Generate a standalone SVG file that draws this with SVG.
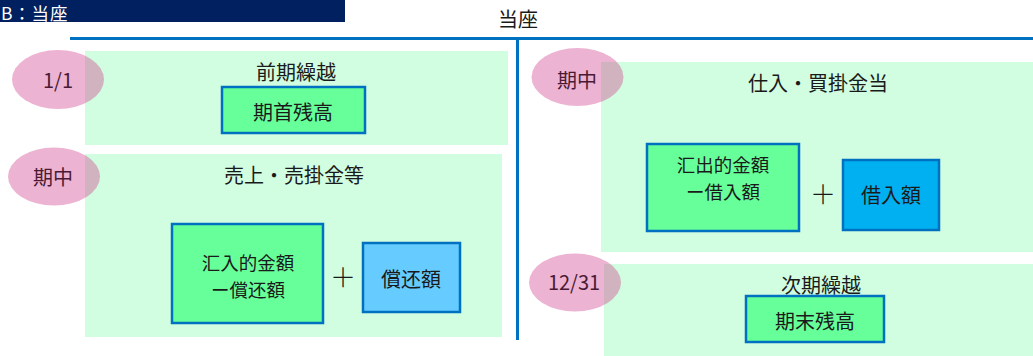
<svg xmlns="http://www.w3.org/2000/svg" width="1033" height="356" viewBox="0 0 1033 356">
<style>
text{font-family:"Noto Sans CJK JP","Noto Sans CJK SC",sans-serif;font-size:20px;fill:#1a1a1a;text-anchor:middle}
.panel{fill:#D1FDE0}
.oval{fill:#D2408E;fill-opacity:0.4}
.olab{fill:#4a1a34}
.box{stroke:#0070C0;stroke-width:2.5}
.g{fill:#66FF99}
.b1{fill:#66CCFF}
.b2{fill:#00B0F0}
.line{stroke:#0070C0;stroke-width:3;fill:none}
.plus{font-size:26px;font-weight:300}
.two{font-size:18.5px}
</style>
<g id="header">
<rect x="0" y="0" width="345" height="22" fill="#002060"/>
<text x="1" y="20.3" style="fill:#fff;text-anchor:start;font-size:17.5px;letter-spacing:0.8px">B：当座</text>
</g>
<text id="title" x="518" y="27">当座</text>
<g id="connectors">
<line class="line" x1="70" y1="38.5" x2="1033" y2="38.5"/>
<line class="line" x1="517.5" y1="38" x2="517.5" y2="340"/>
</g>
<g id="opening">
<rect class="panel" x="85" y="51" width="423" height="94"/>
<ellipse class="oval" cx="58" cy="79.5" rx="46" ry="29.5"/>
<text class="olab" x="58" y="88">1/1</text>
<text x="296" y="80">前期繰越</text>
<rect class="box g" x="222" y="87" width="143" height="46"/>
<text x="293" y="120">期首残高</text>
</g>
<g id="sales">
<rect class="panel" x="85" y="154" width="417" height="183"/>
<ellipse class="oval" cx="54" cy="176.5" rx="46" ry="29"/>
<text class="olab" x="53" y="185">期中</text>
<text x="294" y="183">売上・売掛金等</text>
<rect class="box g" x="172" y="224" width="151" height="99"/>
<text class="two" x="248" y="269.5">汇入的金額</text>
<text class="two" x="248" y="296.5">ー償还額</text>
<text class="plus" x="343" y="287">＋</text>
<rect class="box b1" x="363" y="243" width="97" height="69"/>
<text x="411" y="287">償还額</text>
</g>
<g id="purchases">
<rect class="panel" x="601" y="62" width="432" height="190"/>
<ellipse class="oval" cx="577.5" cy="77" rx="46" ry="29"/>
<text class="olab" x="577" y="88">期中</text>
<text x="818" y="91">仕入・買掛金当</text>
<rect class="box g" x="647" y="144" width="152" height="87"/>
<text class="two" x="723" y="171.5">汇出的金額</text>
<text class="two" x="723" y="198.5">ー借入額</text>
<text class="plus" x="823" y="204">＋</text>
<rect class="box b2" x="843" y="160" width="96" height="70"/>
<text x="891" y="203">借入額</text>
</g>
<g id="closing">
<rect class="panel" x="604" y="264" width="429" height="92"/>
<ellipse class="oval" cx="575" cy="282.5" rx="46" ry="29"/>
<text class="olab" x="574" y="290">12/31</text>
<text x="821" y="293">次期繰越</text>
<rect class="box g" x="746" y="296" width="138" height="46"/>
<text x="815" y="329">期末残高</text>
</g>
</svg>
